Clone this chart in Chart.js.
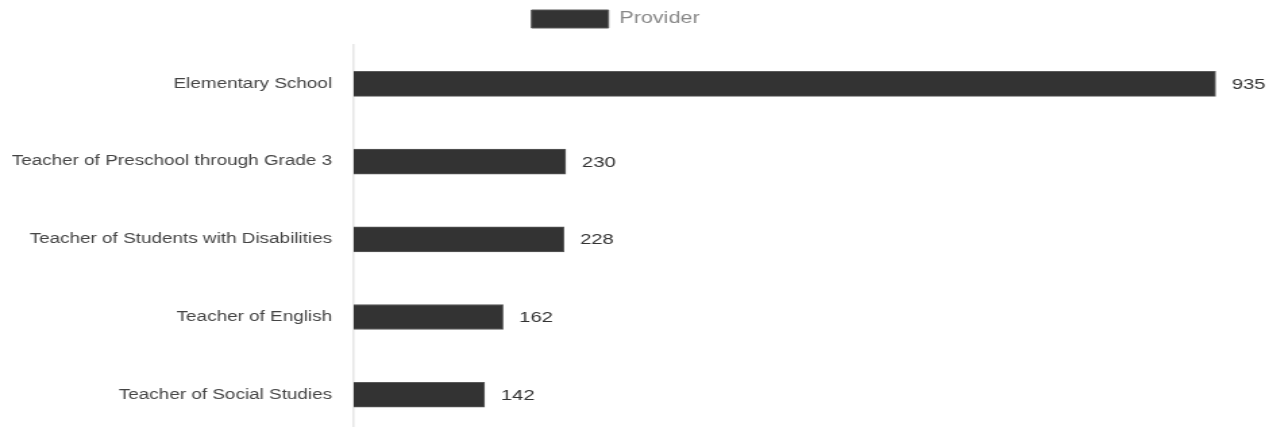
<!DOCTYPE html>
<html>
<head>
<meta charset="utf-8">
<script src="https://cdn.jsdelivr.net/npm/chart.js@4/dist/chart.umd.min.js"></script>
<style>
  html, body { margin: 0; padding: 0; background: #fff; overflow: hidden; width: 1271px; height: 427px; }
  #wrap { position: absolute; left: 0; top: 0; width: 942px; height: 450px; transform: scaleX(1.35); transform-origin: 0 0; }
</style>
</head>
<body>
<div id="wrap"><canvas id="c" width="942" height="450"></canvas></div>
<script>
const categories = [
  "Elementary School",
  "Teacher of Preschool through Grade 3",
  "Teacher of Students with Disabilities",
  "Teacher of English",
  "Teacher of Social Studies"
];
const seriesName = "Provider";
const providerValues = [935, 230, 228, 162, 142];

const FONT = "'Liberation Sans', Arial, Helvetica, sans-serif";

const valueLabels = {
  id: 'valueLabels',
  afterDatasetsDraw(chart) {
    const ctx = chart.ctx;
    ctx.save();
    ctx.font = "15px " + FONT;
    ctx.fillStyle = '#333';
    ctx.textAlign = 'left';
    ctx.textBaseline = 'middle';
    const meta = chart.getDatasetMeta(0);
    meta.data.forEach((bar, i) => {
      ctx.fillText(String(chart.data.datasets[0].data[i]), bar.x + 12, bar.y + 1);
    });
    ctx.restore();
  }
};

new Chart(document.getElementById('c'), {
  type: 'bar',
  data: {
    labels: categories,
    datasets: [{
      label: seriesName,
      data: providerValues,
      backgroundColor: '#333333',
      borderColor: '#5a5a5a',
      borderWidth: 1,
      barThickness: 25
    }]
  },
  options: {
    indexAxis: 'y',
    responsive: false,
    animation: false,
    devicePixelRatio: 1,
    layout: { padding: { left: 0, right: 30, top: 0, bottom: 0 } },
    plugins: {
      legend: {
        display: true,
        position: 'top',
        labels: {
          boxWidth: 57,
          boxHeight: 18,
          color: '#888',
          font: { family: FONT, size: 16 },
          padding: 10
        }
      },
      tooltip: { enabled: false }
    },
    scales: {
      x: {
        position: 'top',
        min: 0,
        max: 952,
        grid: { display: false },
        border: { display: false },
        ticks: { display: false },
        afterFit: s => { s.height = 7; }
      },
      y: {
        grid: { display: false },
        border: { display: true, color: '#e6e6e6', width: 1.5 },
        ticks: { color: '#444', padding: 8, font: { family: FONT, size: 14 } },
        afterFit: s => { s.width = 262; }
      }
    }
  },
  plugins: [valueLabels]
});
</script>
</body>
</html>
